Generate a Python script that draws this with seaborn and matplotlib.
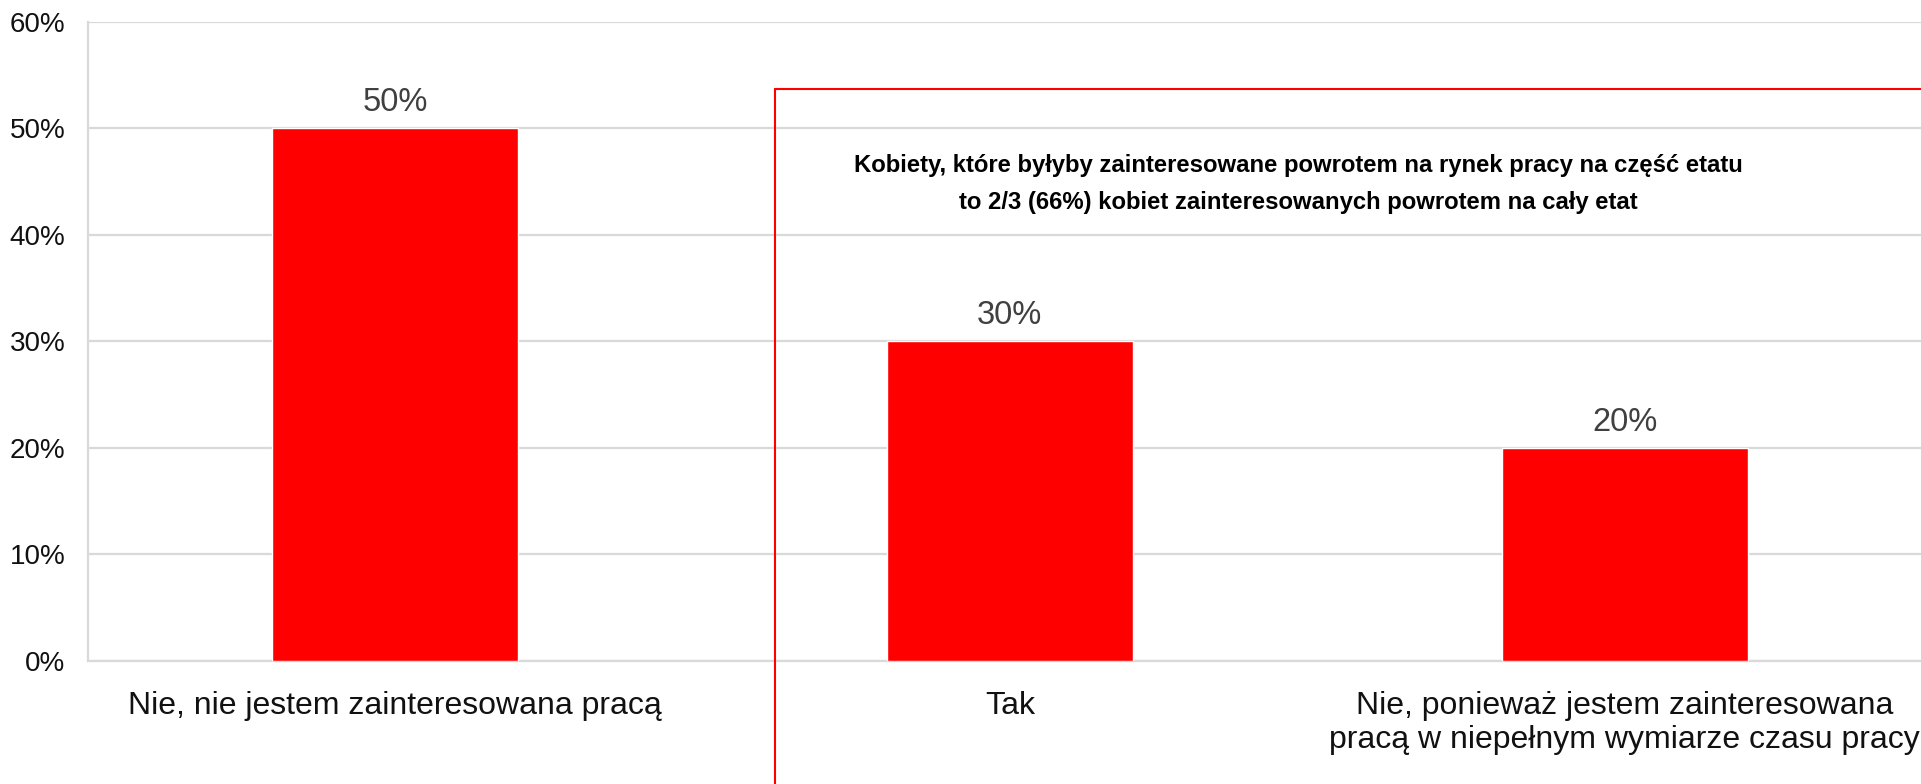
import matplotlib
matplotlib.use("Agg")
import matplotlib.pyplot as plt
import seaborn as sns
import pandas as pd
from matplotlib.ticker import FuncFormatter

categories = [
    "Nie, nie jestem zainteresowana pracą",
    "Tak",
    "Nie, ponieważ jestem zainteresowana\npracą w niepełnym wymiarze czasu pracy",
]
values = [50, 30, 20]
yticks = [0, 10, 20, 30, 40, 50, 60]
note = ("Kobiety, które byłyby zainteresowane powrotem na rynek pracy na część etatu\n"
        "to 2/3 (66%) kobiet zainteresowanych powrotem na cały etat")

sns.set_theme(style="white")
plt.rcParams["font.family"] = ["Liberation Sans", "DejaVu Sans"]

df = pd.DataFrame({"kategoria": categories, "udzial": values})

fig = plt.figure(figsize=(19.21, 7.84), dpi=100)
ax = fig.add_axes([0.0456, 0.157, 0.9602, 0.815])

sns.barplot(data=df, x="kategoria", y="udzial", color="#ff0000", saturation=1,
            width=0.4, ax=ax, zorder=3)

ax.set_ylim(0, 60)
ax.set_xlim(-0.5, 2.5)
ax.set_yticks(yticks)
ax.yaxis.set_major_formatter(FuncFormatter(lambda v, _: f"{v:.0f}%"))
ax.grid(axis="y", color="#d9d9d9", linewidth=1.6, zorder=0)
ax.set_axisbelow(True)
ax.set_xlabel("")
ax.set_ylabel("")

for side in ["top", "right"]:
    ax.spines[side].set_visible(False)
for side in ["left", "bottom"]:
    ax.spines[side].set_color("#d9d9d9")
    ax.spines[side].set_linewidth(1.6)

ax.tick_params(axis="y", labelsize=20, colors="#111111", length=0, pad=16)
ax.tick_params(axis="x", labelsize=23, colors="#111111", length=0, pad=22)
for lbl in ax.get_xticklabels():
    lbl.set_linespacing(1.15)

# value labels above the bars
for i, v in enumerate(values):
    ax.text(i, v + 2.4, f"{v}%", ha="center", va="center", fontsize=23.5,
            color="#404040")

# red frame around the two right-hand answers
box_x, box_top = 0.618, 53.7
ax.plot([box_x, box_x], [box_top, -20], color="#ff0000", lw=1.5,
        clip_on=False, zorder=4)
ax.plot([box_x, 2.7], [box_top, box_top], color="#ff0000", lw=1.5,
        clip_on=False, zorder=4)

ax.text(1.469, 44.8, note, ha="center", va="center", fontsize=17.2,
        fontweight="bold", color="#000000", linespacing=1.8)

fig.savefig("out.png", dpi=100)
